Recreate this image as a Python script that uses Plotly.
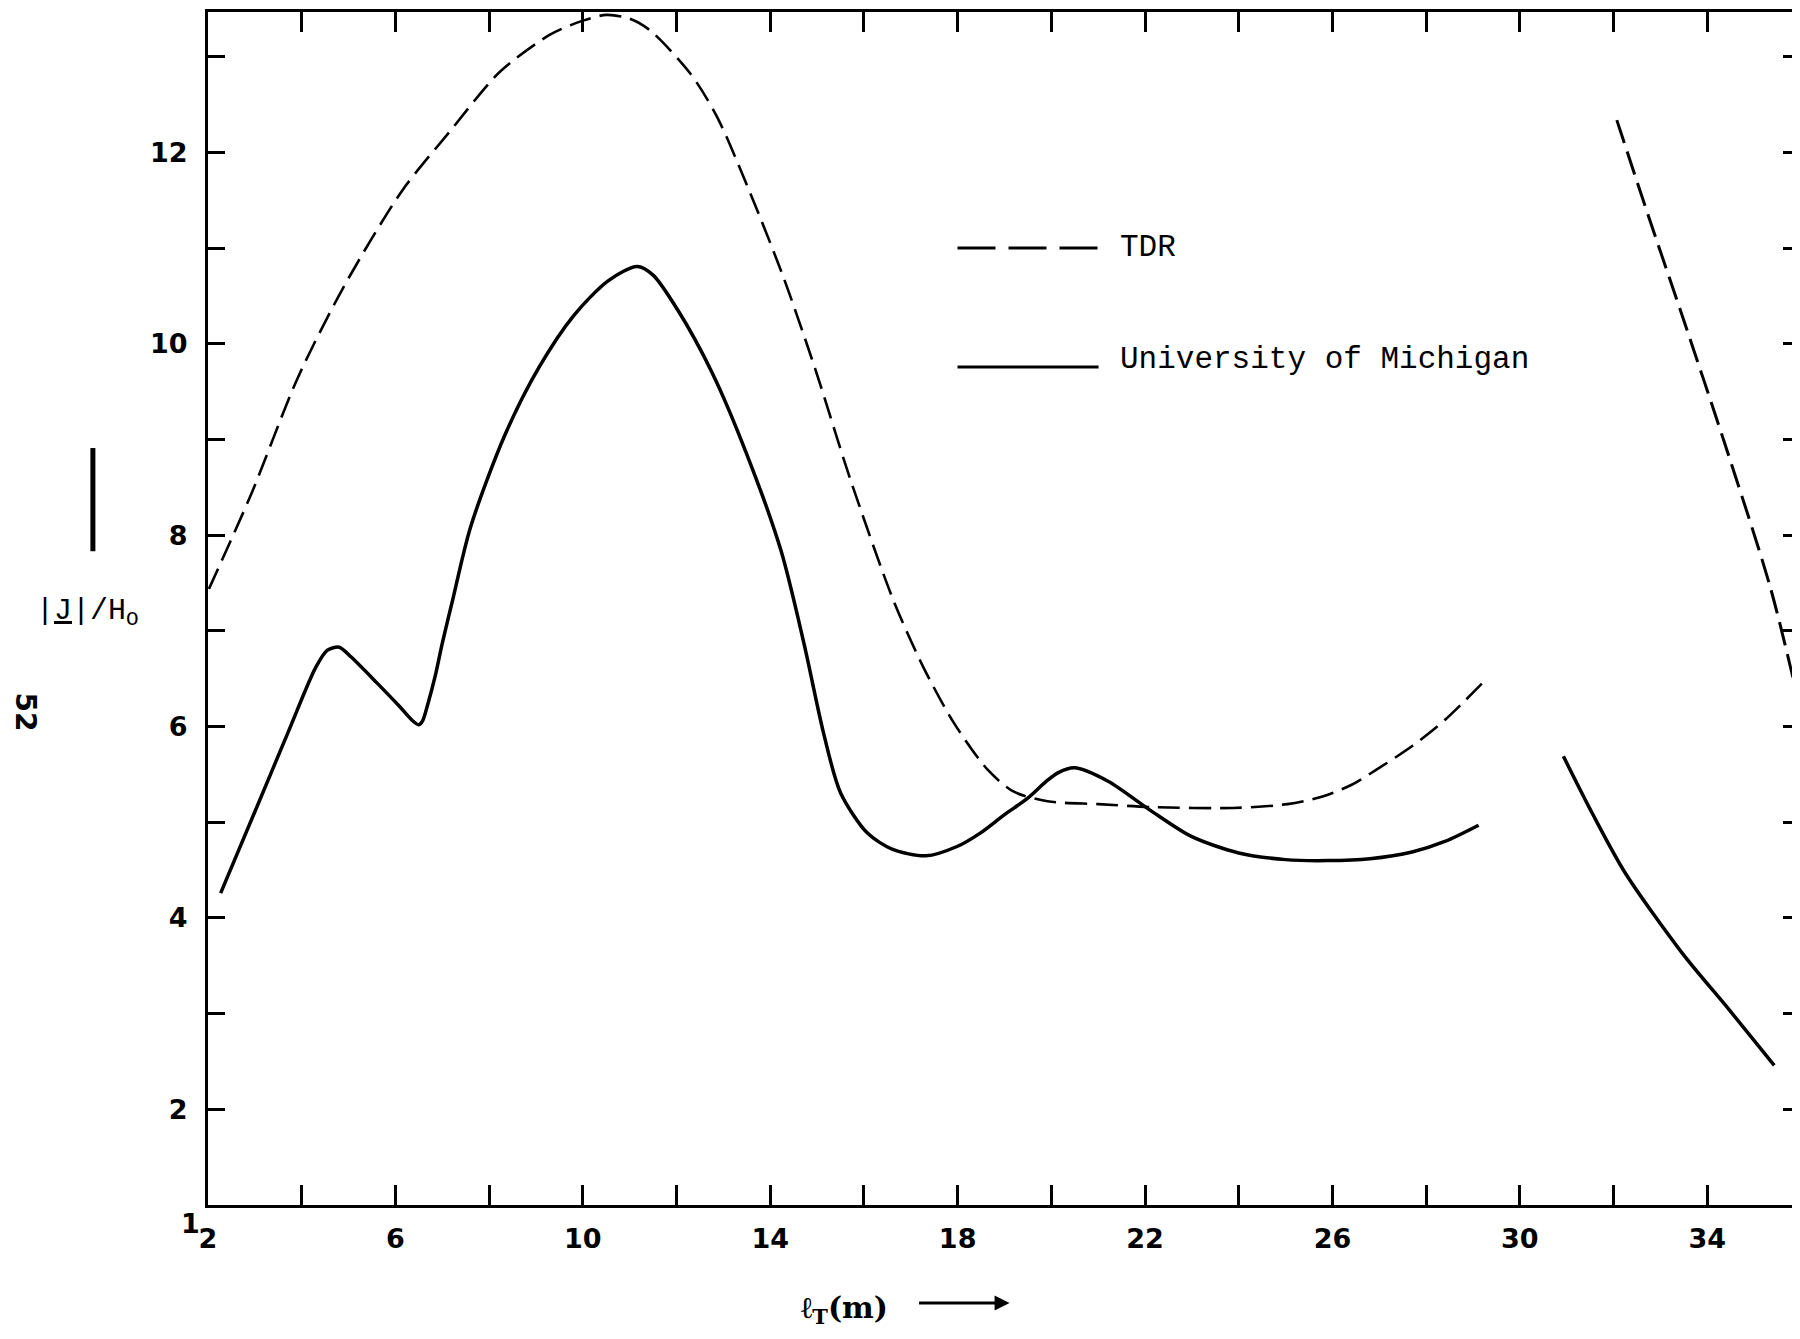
import plotly.graph_objects as go

# ---------------- data ----------------
um_x1 = [2.27, 3.0, 3.70, 4.30, 4.55, 4.80, 5.05, 5.6, 6.09, 6.35, 6.50, 6.58, 6.70, 6.85, 7.00, 7.22, 7.60, 8.33,
         9.07, 9.81, 10.54, 11.16, 11.5, 12.02, 12.76, 13.49, 14.23, 14.72, 15.14, 15.50, 16.07, 16.6,
         17.32, 18.0, 18.49, 19.0, 19.49, 19.92, 20.15, 20.49, 21.21, 22.13, 23.0, 24.0, 25.0, 25.9, 26.8,
         27.7, 28.4, 29.12]
um_y1 = [4.26, 5.11, 5.93, 6.62, 6.80, 6.83, 6.73, 6.46, 6.21, 6.07, 6.02, 6.06, 6.25, 6.53, 6.87, 7.32, 8.08, 9.04,
         9.76, 10.30, 10.66, 10.81, 10.72, 10.36, 9.70, 8.86, 7.84, 6.87, 5.93, 5.31, 4.89, 4.72,
         4.65, 4.75, 4.89, 5.08, 5.25, 5.44, 5.52, 5.57, 5.43, 5.12, 4.85, 4.68, 4.61, 4.60, 4.62,
         4.69, 4.80, 4.97]
um_x2 = [30.93, 31.54, 32.25, 33.47, 34.47, 35.43]
um_y2 = [5.69, 5.10, 4.47, 3.63, 3.04, 2.46]

tdr_x1 = [2.02, 2.93, 3.91, 4.90, 6.14, 7.16, 8.22, 9.29, 10.0, 10.51, 11.0, 11.43, 12.29, 12.86,
          13.57, 14.28, 14.96, 15.70, 16.63, 17.27, 17.92, 18.64, 19.20, 19.92, 21.0, 22.13, 23.88,
          25.04, 25.79, 26.4, 26.94, 27.71, 28.40, 29.33]
tdr_y1 = [7.44, 8.44, 9.64, 10.60, 11.60, 12.22, 12.84, 13.23, 13.38, 13.44, 13.40, 13.28, 12.83, 12.38,
          11.58, 10.70, 9.74, 8.60, 7.32, 6.62, 6.04, 5.55, 5.32, 5.22, 5.19, 5.16, 5.15,
          5.19, 5.27, 5.39, 5.55, 5.80, 6.07, 6.52]
tdr_x2 = [32.07, 32.75, 33.47, 34.36, 35.35, 35.98]
tdr_y2 = [12.34, 11.33, 10.29, 8.98, 7.45, 6.20]

x_tickvals = [2, 4, 6, 8, 10, 12, 14, 16, 18, 20, 22, 24, 26, 28, 30, 32, 34]
x_ticktext = ["2", "", "6", "", "10", "", "14", "", "18", "", "22", "", "26", "", "30", "", "34"]
y_tickvals = [1, 2, 3, 4, 5, 6, 7, 8, 9, 10, 11, 12, 13]
y_ticktext = ["", "2", "", "4", "", "6", "", "8", "", "10", "", "12", ""]

legend_names = ["TDR", "University of Michigan"]

# ---------------- figure ----------------
TICKFONT = dict(family="DejaVu Sans", size=27, color="black", weight="bold")
MONO = "Liberation Mono"

fig = go.Figure()
fig.add_trace(go.Scatter(x=tdr_x1, y=tdr_y1, mode="lines", showlegend=False,
                         line=dict(color="black", width=2.6, dash="22px,9px", shape="spline", smoothing=0.8)))
fig.add_trace(go.Scatter(x=tdr_x2, y=tdr_y2, mode="lines", showlegend=False,
                         line=dict(color="black", width=3, dash="24px,9px", shape="spline", smoothing=0.8)))
fig.add_trace(go.Scatter(x=um_x1, y=um_y1, mode="lines", showlegend=False,
                         line=dict(color="black", width=3.5, shape="spline", smoothing=0.8)))
fig.add_trace(go.Scatter(x=um_x2, y=um_y2, mode="lines", showlegend=False,
                         line=dict(color="black", width=3.5, shape="spline", smoothing=0.8)))
# helper trace for the right-hand tick axis
fig.add_trace(go.Scatter(x=[None], y=[None], yaxis="y2", showlegend=False, hoverinfo="skip"))

fig.update_layout(
    width=1792, height=1331,
    margin=dict(l=200, r=0, t=4, b=134),
    paper_bgcolor="white", plot_bgcolor="white",
    showlegend=False,
    xaxis=dict(range=[2, 35.98], tickmode="array", tickvals=x_tickvals, ticktext=x_ticktext,
               ticks="inside", ticklen=20, tickwidth=3, tickcolor="black",
               showline=True, linewidth=3, linecolor="black", mirror="ticks",
               showgrid=False, zeroline=False, tickfont=TICKFONT, ticklabelstandoff=8),
    yaxis=dict(range=[1, 13.47], tickmode="array", tickvals=y_tickvals, ticktext=y_ticktext,
               ticks="inside", ticklen=17, tickwidth=3, tickcolor="black",
               showline=True, linewidth=3, linecolor="black", mirror=False,
               showgrid=False, zeroline=False, tickfont=TICKFONT, ticklabelstandoff=12),
    yaxis2=dict(range=[1, 13.47], overlaying="y", side="right", anchor="x",
                tickmode="array", tickvals=y_tickvals, showticklabels=False,
                ticks="inside", ticklen=17, tickwidth=3, tickcolor="black",
                showline=False, showgrid=False, zeroline=False),
)

# corner tick label "1"
fig.add_annotation(x=2, y=1, xref="x", yref="y", text="1", showarrow=False,
                   xanchor="right", yanchor="middle", xshift=-6, yshift=-18,
                   font=TICKFONT)

# legend (manual, to mirror the long key lines of the original)
fig.add_shape(type="line", xref="paper", yref="paper", x0=0.4708, x1=0.5594, y0=0.8022, y1=0.8022,
              line=dict(color="black", width=3, dash="38px,13px"))
fig.add_shape(type="line", xref="paper", yref="paper", x0=0.4708, x1=0.5594, y0=0.7024, y1=0.7024,
              line=dict(color="black", width=3))
fig.add_annotation(x=0.5717, y=0.8022, xref="paper", yref="paper", text=legend_names[0],
                   showarrow=False, xanchor="left", yanchor="middle",
                   font=dict(family=MONO, size=31, color="black"))
fig.add_annotation(x=0.5717, y=0.7090, xref="paper", yref="paper", text=legend_names[1],
                   showarrow=False, xanchor="left", yanchor="middle",
                   font=dict(family=MONO, size=31, color="black"))

# y-axis title with its bar
fig.add_annotation(x=-0.0754, y=0.497, xref="paper", yref="paper",
                   text="|<u>J</u>|/H<sub>O</sub>", showarrow=False,
                   xanchor="center", yanchor="middle",
                   font=dict(family=MONO, size=30, color="black"))
fig.add_shape(type="line", xref="paper", yref="paper", x0=-0.0723, x1=-0.0723, y0=0.548, y1=0.6345,
              line=dict(color="black", width=5))

# page number
fig.add_annotation(x=-0.1145, y=0.413, xref="paper", yref="paper", text="52", showarrow=False,
                   textangle=90, xanchor="center", yanchor="middle",
                   font=dict(family="DejaVu Sans", size=28, color="black", weight="bold"))

# x-axis title with arrow
fig.add_annotation(x=0.400, y=-0.0872, xref="paper", yref="paper",
                   text="ℓ<sub>T</sub>(m)", showarrow=False, xanchor="center", yanchor="middle",
                   font=dict(family="DejaVu Serif", size=30, color="black", weight="bold"))
fig.add_annotation(x=0.5035, y=-0.0821, xref="paper", yref="paper", text="", showarrow=True,
                   ax=-92, ay=0, arrowhead=2, arrowsize=1, arrowwidth=3, arrowcolor="black")

fig.write_html("out.html")
